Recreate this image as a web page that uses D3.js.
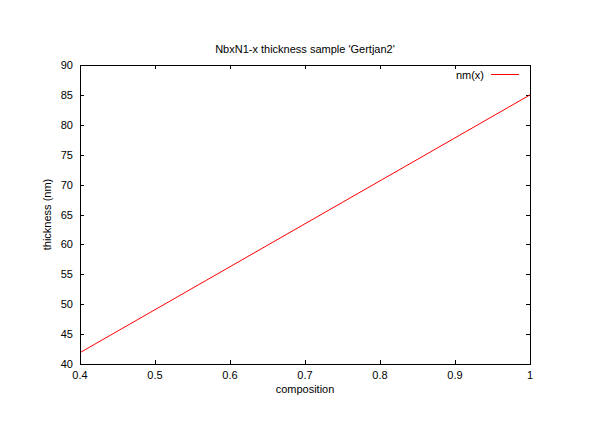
<!DOCTYPE html>
<html>
<head>
<meta charset="utf-8">
<script src="https://cdn.jsdelivr.net/npm/d3@7"></script>
<style>
  body { margin: 0; background: #fff; }
  text { font-family: "Liberation Sans", Arial, sans-serif; font-size: 11px; fill: #000; }
</style>
</head>
<body>
<div id="chart"></div>
<script>
const title = "NbxN1-x thickness sample 'Gertjan2'";
const xLabel = "composition";
const yLabel = "thickness (nm)";
const seriesName = "nm(x)";
const composition = [0.4, 1.0];
const thickness = [41.9, 85.0];
const xTicks = [0.4, 0.5, 0.6, 0.7, 0.8, 0.9, 1];
const yTicks = [40, 45, 50, 55, 60, 65, 70, 75, 80, 85, 90];

const W = 599, H = 423;
const m = {left: 80, right: 69, top: 65, bottom: 59};

const svg = d3.select('#chart').append('svg').attr('width', W).attr('height', H);
const x = d3.scaleLinear().domain([0.4, 1]).range([m.left, W - m.right]);
const y = d3.scaleLinear().domain([40, 90]).range([H - m.bottom, m.top]);

const tl = 4;
// ticks on all four sides (gnuplot style, pointing inward)
const g = svg.append('g').attr('stroke', '#000').attr('stroke-width', 1);
xTicks.forEach(t => {
  const px = Math.round(x(t)) + 0.5;
  g.append('line').attr('x1', px).attr('x2', px).attr('y1', y(40)).attr('y2', y(40) - tl);
  g.append('line').attr('x1', px).attr('x2', px).attr('y1', y(90)).attr('y2', y(90) + tl);
});
yTicks.forEach(t => {
  const py = Math.round(y(t)) + 0.5;
  g.append('line').attr('x1', x(0.4)).attr('x2', x(0.4) + tl).attr('y1', py).attr('y2', py);
  g.append('line').attr('x1', x(1)).attr('x2', x(1) - tl).attr('y1', py).attr('y2', py);
});

svg.selectAll('.xt').data(xTicks).enter().append('text')
  .attr('x', d => x(d)).attr('y', y(40) + 15).attr('text-anchor', 'middle').text(d => d);
svg.selectAll('.yt').data(yTicks).enter().append('text')
  .attr('x', x(0.4) - 7).attr('y', d => y(d) + 4).attr('text-anchor', 'end').text(d => d);

// data line
const line = d3.line().x((d, i) => x(composition[i])).y(d => y(d));
svg.append('path').datum(thickness).attr('d', line)
  .attr('fill', 'none').attr('stroke', '#ff0000').attr('stroke-width', 1);

// frame
svg.append('rect').attr('x', x(0.4) + 0.5).attr('y', y(90) + 0.5)
  .attr('width', x(1) - x(0.4)).attr('height', y(40) - y(90))
  .attr('fill', 'none').attr('stroke', '#000').attr('stroke-width', 1);

// legend
svg.append('text').attr('x', 484).attr('y', 79).attr('text-anchor', 'end').text(seriesName);
svg.append('line').attr('x1', 491).attr('x2', 519).attr('y1', 74.5).attr('y2', 74.5)
  .attr('stroke', '#ff0000').attr('stroke-width', 1);

svg.append('text').attr('x', (x(0.4) + x(1)) / 2).attr('y', 53).attr('text-anchor', 'middle').text(title);
svg.append('text').attr('x', (x(0.4) + x(1)) / 2).attr('y', 393).attr('text-anchor', 'middle').text(xLabel);
svg.append('text').attr('transform', `translate(51,${(y(40) + y(90)) / 2}) rotate(-90)`)
  .attr('text-anchor', 'middle').text(yLabel);
</script>
</body>
</html>
